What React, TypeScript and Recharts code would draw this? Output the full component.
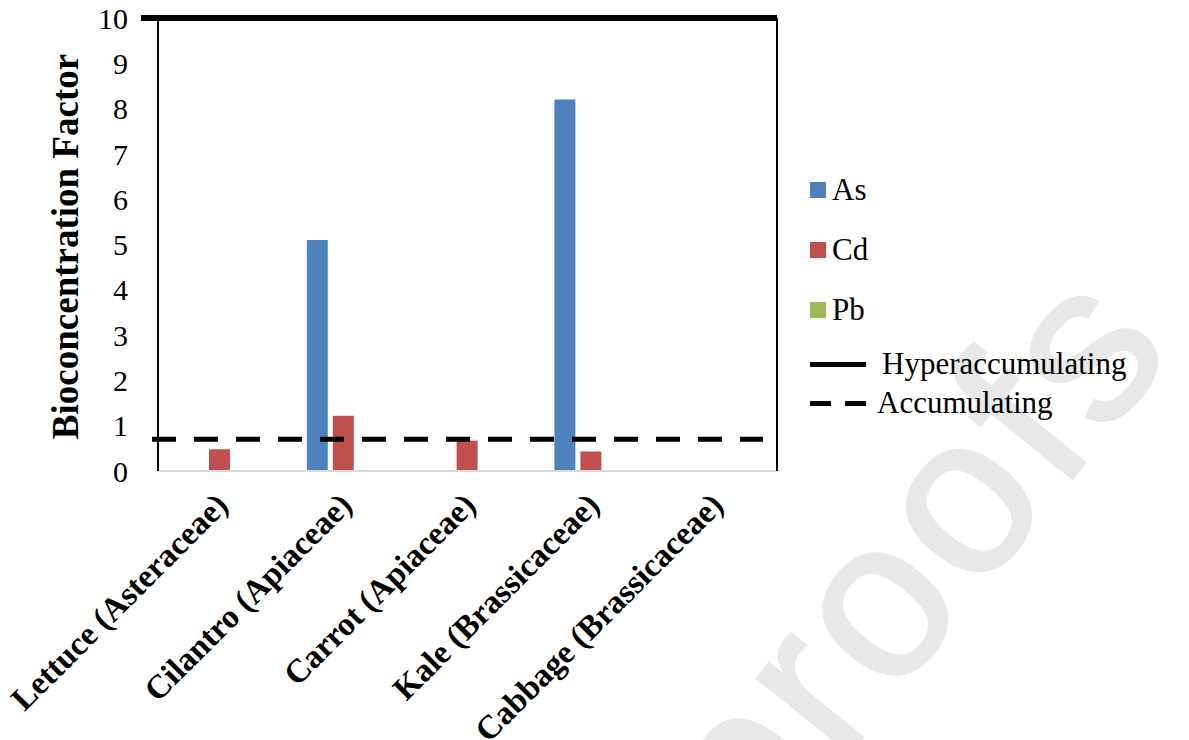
import React from "react";
import {
  BarChart,
  Bar,
  XAxis,
  YAxis,
  ReferenceLine,
  Legend,
  Label
} from "recharts";

// vegetables (family)
const categories = [
  "Lettuce (Asteraceae)",
  "Cilantro (Apiaceae)",
  "Carrot (Apiaceae)",
  "Kale (Brassicaceae)",
  "Cabbage (Brassicaceae)"
];

// bioconcentration factor per metal
const asValues = [0, 5.1, 0, 8.2, 0];
const cdValues = [0.48, 1.22, 0.67, 0.43, 0];
const pbValues = [0, 0, 0, 0, 0];

const yTicks = [0, 1, 2, 3, 4, 5, 6, 7, 8, 9, 10];

// threshold lines
const HYPER_LEVEL = 10;
const ACCUM_LEVEL = 0.7;

const AS_COLOR = "#4f81bd";
const CD_COLOR = "#c0504d";
const PB_COLOR = "#9bbb59";

const SERIF = "'Liberation Serif', 'Times New Roman', serif";

const data = categories.map((name, i) => ({
  name,
  As: asValues[i],
  Cd: cdValues[i],
  Pb: pbValues[i]
}));

const legendRows = [
  { label: "As", kind: "box", color: AS_COLOR, top: 0 },
  { label: "Cd", kind: "box", color: CD_COLOR, top: 60 },
  { label: "Pb", kind: "box", color: PB_COLOR, top: 120 },
  { label: "Hyperaccumulating", kind: "solid", color: "#000", top: 174 },
  { label: "Accumulating", kind: "dashed", color: "#000", top: 213 }
];

const XTick = ({ x, y, payload }: any) => (
  <text
    transform={`translate(${x + 10},${y + 34}) rotate(-45)`}
    textAnchor="end"
    fontSize={33}
    fontWeight="bold"
    fontFamily={SERIF}
    fill="#000"
  >
    {payload.value}
  </text>
);

const renderLegend = () => (
  <div style={{ position: "relative", width: 340, height: 250, fontFamily: SERIF, fontSize: 31, color: "#000" }}>
    {legendRows.map((row) => (
      <div key={row.label} style={{ position: "absolute", top: row.top, left: 0, display: "flex", alignItems: "center", whiteSpace: "nowrap" }}>
        {row.kind === "box" && (
          <span style={{ display: "inline-block", width: 16, height: 16, background: row.color, marginRight: 6 }} />
        )}
        {row.kind === "solid" && (
          <span style={{ display: "inline-block", width: 56, height: 5, background: row.color, marginRight: 16 }} />
        )}
        {row.kind === "dashed" && (
          <span style={{ display: "inline-flex", width: 56, marginRight: 11, justifyContent: "space-between" }}>
            <span style={{ width: 21, height: 5, background: row.color }} />
            <span style={{ width: 21, height: 5, background: row.color }} />
          </span>
        )}
        <span>{row.label}</span>
      </div>
    ))}
  </div>
);

export default function App() {
  return (
    <div style={{ position: "absolute", left: 0, top: 0, width: 1189, height: 740, background: "#fff", overflow: "hidden" }}>
      {/* faint proof watermark */}
      <svg width={1189} height={740} style={{ position: "absolute", left: 0, top: 0 }}>
        <text
          transform="translate(1180,345) rotate(-51)"
          textAnchor="end"
          fontSize={225}
          letterSpacing={8}
          fontFamily="'Liberation Sans', Arial, sans-serif"
          fill="#e8e8e8"
          stroke="#e8e8e8"
          strokeWidth={3}
        >
          Journal Pre-proofs
        </text>
      </svg>
      <div style={{ position: "absolute", left: 0, top: 0 }}>
        <BarChart
          width={1189}
          height={740}
          data={data}
          margin={{ top: 18, right: 411, left: 0, bottom: 0 }}
          barSize={21}
          barGap={5}
        >
          <XAxis
            dataKey="name"
            height={269}
            interval={0}
            axisLine={{ stroke: "#d9d9d9", strokeWidth: 2 }}
            tickLine={false}
            tickSize={0}
            tick={<XTick />}
          />
          <YAxis
            width={158}
            domain={[0, 10]}
            ticks={yTicks}
            interval={0}
            axisLine={{ stroke: "#000", strokeWidth: 2 }}
            tickLine={false}
            tickSize={0}
            tickMargin={30}
            tick={{ fontSize: 30, fill: "#000", fontFamily: SERIF }}
          >
            <Label
              content={({ viewBox }: any) => {
                const cy = viewBox.y + viewBox.height / 2;
                return (
                  <text
                    transform={`translate(78,${cy + 2}) rotate(-90)`}
                    textAnchor="middle"
                    fontSize={37}
                    fontWeight="bold"
                    fontFamily={SERIF}
                    fill="#000"
                  >
                    Bioconcentration Factor
                  </text>
                );
              }}
            />
          </YAxis>
          <YAxis
            yAxisId="frame"
            orientation="right"
            width={1}
            domain={[0, 10]}
            tick={false}
            tickLine={false}
            axisLine={{ stroke: "#000", strokeWidth: 2 }}
          />
          <Legend
            layout="horizontal"
            verticalAlign="middle"
            align="center"
            content={renderLegend}
            wrapperStyle={{ position: "absolute", left: 810, top: 172, width: 360 }}
          />
          <Bar dataKey="As" fill={AS_COLOR} isAnimationActive={false} />
          <Bar dataKey="Cd" fill={CD_COLOR} isAnimationActive={false} />
          <Bar dataKey="Pb" fill={PB_COLOR} isAnimationActive={false} />
          <ReferenceLine
            y={HYPER_LEVEL}
            stroke="#000"
            strokeWidth={6}
            shape={(p: any) => <line x1={p.x1 - 17} y1={p.y1} x2={p.x2} y2={p.y2} stroke="#000" strokeWidth={6} />}
          />
          <ReferenceLine
            y={ACCUM_LEVEL}
            stroke="#000"
            strokeWidth={5}
            strokeDasharray="24 18"
            shape={(p: any) => (
              <line x1={p.x1 - 6} y1={p.y1} x2={p.x2 - 14} y2={p.y2} stroke="#000" strokeWidth={5} strokeDasharray="24 18" />
            )}
          />
        </BarChart>
      </div>
    </div>
  );
}
